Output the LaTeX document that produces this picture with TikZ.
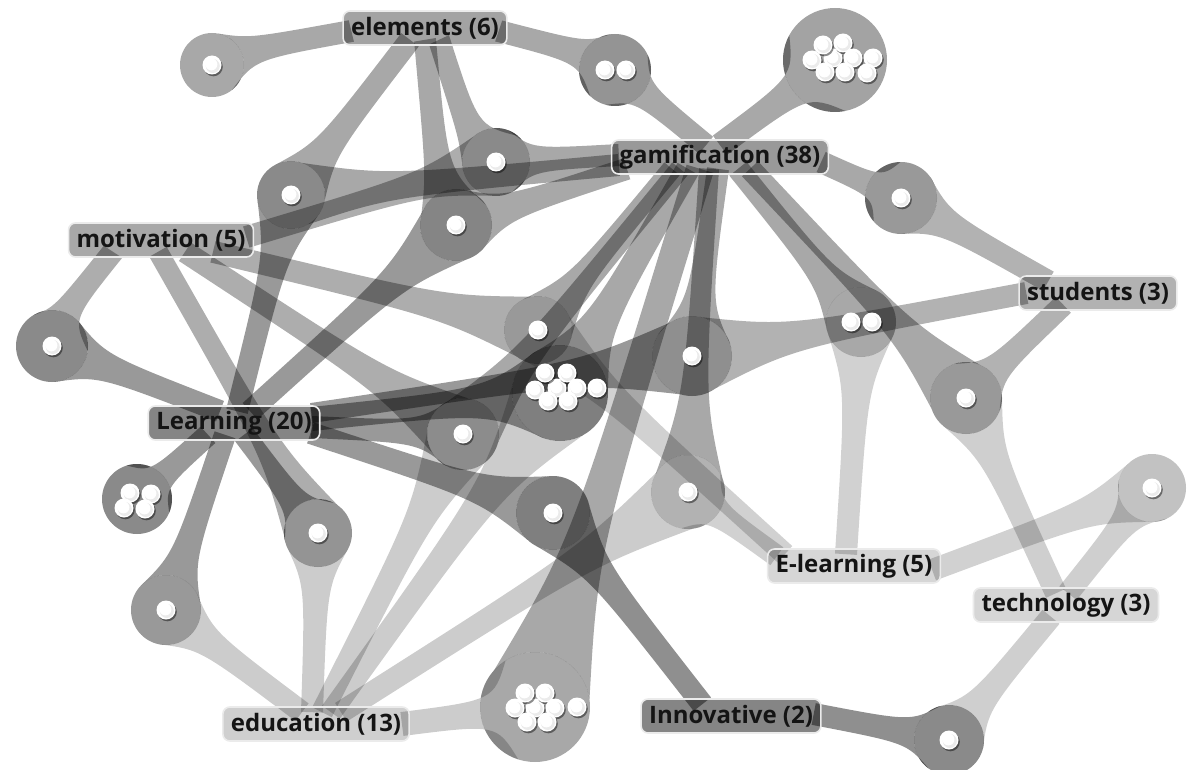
\documentclass[tikz,border=0pt]{standalone}
\usepackage{fontspec}
\setmainfont{Open Sans}
\usetikzlibrary{calc}
\pgfdeclarelayer{bandlayer}
\pgfdeclarelayer{dotlayer}
\pgfsetlayers{bandlayer,dotlayer,main}
% tapered band from document #1 (radius #3) to keyword anchor #2
\newcommand\band[6]{%
  \fill[black,fill opacity=#5] let \p1=($(#2)-(#1.center)$), \n1={atan2(\y1,\x1)},
    \p2=($(#1.center)!0.3!(#2)$), \n2={#4+(#6)}, \n3={#4-(#6)} in
    ($(#1.center)+(\n1+65:#3pt)$) .. controls ($(\p2)+(\n1+90:\n2 pt)$) .. ($(#2)+(\n1+90:#4pt)$)
    -- ($(#2)+(\n1-90:#4pt)$) .. controls ($(\p2)+(\n1-90:\n3 pt)$) .. ($(#1.center)+(\n1-65:#3pt)$)
    arc[start angle=\n1-65, delta angle=130, radius=#3pt] -- cycle;}
\newcommand\wdot[3]{%
  \fill[black,fill opacity=.45] ($(#1.center)+({#2+1.3},{-1*#3-1.8})$) circle[radius=9.5pt];
  \fill[white] ($(#1.center)+({#2},{-1*#3})$) circle[radius=9.5pt];
  \fill[black!8] ($(#1.center)+({#2+0.8},{-1*#3-1})$) circle[radius=7pt];
  \fill[white] ($(#1.center)+({#2-0.6},{-1*#3+0.6})$) circle[radius=6pt];}
\tikzset{
  kw/.style={rounded corners=7pt, draw=black!8, line width=1.6pt, fill=black,
    fill opacity=#1, text opacity=1, text=black!92, minimum height=34pt,
    inner xsep=8pt, inner ysep=0pt, font=\fontsize{24}{24}\selectfont\bfseries},
  docn/.style 2 args={circle, fill=black, fill opacity=#2, minimum size=2*#1 pt,
    inner sep=0pt, draw=none}
}
\begin{document}
\begin{tikzpicture}[x=1pt,y=1pt]
\useasboundingbox (0,0) rectangle (1188,-770);
% keyword labels
\node[kw=.36] (elem) at (425,-28) {elements (6)};
\node[kw=.4] (gam) at (720,-157) {gamification (38)};
\node[kw=.34] (mot) at (161,-240) {motivation (5)};
\node[kw=.3] (stu) at (1098,-293) {students (3)};
\node[kw=.48] (lrn) at (234,-423) {Learning (20)};
\node[kw=.16] (elr) at (854,-566) {E-learning (5)};
\node[kw=.16] (tec) at (1066,-605) {technology (3)};
\node[kw=.19] (edu) at (316,-724) {education (13)};
\node[kw=.48] (inn) at (731,-716) {Innovative (2)};
% band anchors, just inside the labels
\coordinate (eW) at ($(elem.west)+(9,-3)$);
\coordinate (eE) at ($(elem.east)+(-9,-3)$);
\coordinate (eB1) at ($(elem.south)+(-15,6)$);
\coordinate (eB2) at ($(elem.south)+(0,6)$);
\coordinate (eB3) at ($(elem.south)+(14,6)$);
\coordinate (gT1) at ($(gam.north)+(-14,-6)$);
\coordinate (gT2) at ($(gam.north)+(0,-6)$);
\coordinate (gW) at ($(gam.west)+(8,2)$);
\coordinate (gW2) at ($(gam.west)+(8,-8)$);
\coordinate (gSW) at ($(gam.south west)+(16,6)$);
\coordinate (gB8) at ($(gam.south)+(-48,6)$);
\coordinate (gB14) at ($(gam.south)+(-40,6)$);
\coordinate (gB9) at ($(gam.south)+(-32,6)$);
\coordinate (gB20) at ($(gam.south)+(-20,6)$);
\coordinate (gB19) at ($(gam.south)+(-11,6)$);
\coordinate (gB10) at ($(gam.south)+(-2,6)$);
\coordinate (gB11) at ($(gam.south)+(18,6)$);
\coordinate (gB13) at ($(gam.south)+(30,6)$);
\coordinate (gE) at ($(gam.east)+(-8,-5)$);
\coordinate (mL) at ($(mot.south)+(-48,6)$);
\coordinate (mR) at ($(mot.east)+(-8,3)$);
\coordinate (mB16) at ($(mot.south)+(-3,6)$);
\coordinate (mB14) at ($(mot.south)+(24,6)$);
\coordinate (mB8) at ($(mot.south)+(52,6)$);
\coordinate (lT7) at ($(lrn.north)+(-14,-6)$);
\coordinate (lT5) at ($(lrn.north)+(3,-6)$);
\coordinate (lT6) at ($(lrn.north)+(16,-6)$);
\coordinate (lR10) at ($(lrn.east)+(-9,10)$);
\coordinate (lR9) at ($(lrn.east)+(-9,4)$);
\coordinate (lR14) at ($(lrn.east)+(-9,-4)$);
\coordinate (lR18) at ($(lrn.east)+(-10,-10)$);
\coordinate (lB15) at ($(lrn.south)+(-26,6)$);
\coordinate (lB17) at ($(lrn.south)+(-9,6)$);
\coordinate (lB16) at ($(lrn.south)+(10,6)$);
\coordinate (sL) at ($(stu.west)+(8,0)$);
\coordinate (sT) at ($(stu.north west)+(30,-6)$);
\coordinate (sB) at ($(stu.south west)+(45,6)$);
\coordinate (lrT) at ($(elr.north)+(-8,-6)$);
\coordinate (lrL8) at ($(elr.north west)+(18,-6)$);
\coordinate (lrL19) at ($(elr.north west)+(10,-8)$);
\coordinate (lrR) at ($(elr.east)+(-9,-4)$);
\coordinate (tT13) at ($(tec.north)+(-10,-6)$);
\coordinate (tT21) at ($(tec.north)+(2,-6)$);
\coordinate (tB) at ($(tec.south)+(-15,6)$);
\coordinate (dT17) at ($(edu.north)+(-14,-6)$);
\coordinate (dT16) at ($(edu.north)+(-4,-6)$);
\coordinate (dT14) at ($(edu.north)+(6,-6)$);
\coordinate (dT9) at ($(edu.north)+(15,-6)$);
\coordinate (dT19) at ($(edu.north)+(25,-6)$);
\coordinate (dR) at ($(edu.east)+(-8,0)$);
\coordinate (iT) at ($(inn.north west)+(62,-6)$);
\coordinate (iR) at ($(inn.east)+(-8,2)$);
\begin{pgfonlayer}{bandlayer}
\fill[white] (0,0) rectangle (1188,-770);
% document nodes
\node[docn={32}{.34}] (d1) at (212,-65) {};
\node[docn={36}{.42}] (d2) at (615,-70) {};
\node[docn={52}{.36}] (d3) at (835,-60) {};
\node[docn={34}{.46}] (d4) at (496,-162) {};
\node[docn={34}{.46}] (d5) at (291,-195) {};
\node[docn={36}{.48}] (d6) at (456,-225) {};
\node[docn={36}{.46}] (d7) at (52,-346) {};
\node[docn={34}{.4}] (d8) at (538,-330) {};
\node[docn={48}{.5}] (d9) at (560,-393) {};
\node[docn={40}{.44}] (d10) at (692,-356) {};
\node[docn={35}{.34}] (d11) at (861,-322) {};
\node[docn={36}{.4}] (d12) at (901,-198) {};
\node[docn={36}{.4}] (d13) at (966,-398) {};
\node[docn={36}{.45}] (d14) at (463,-434) {};
\node[docn={35}{.46}] (d15) at (137,-499) {};
\node[docn={34}{.42}] (d16) at (318,-533) {};
\node[docn={35}{.4}] (d17) at (166,-610) {};
\node[docn={37}{.5}] (d18) at (553,-513) {};
\node[docn={37}{.3}] (d19) at (688,-492) {};
\node[docn={55}{.34}] (d20) at (535,-707) {};
\node[docn={34}{.24}] (d21) at (1152,-488) {};
\node[docn={35}{.46}] (d22) at (949,-740) {};
% elements
\band{d1}{eW}{32}{11}{.34}{6}
\band{d2}{eE}{36}{11}{.34}{-6}
\band{d5}{eB1}{34}{11}{.34}{0}
\band{d6}{eB2}{36}{11}{.34}{10}
\band{d4}{eB3}{34}{11}{.34}{12}
% gamification
\band{d2}{gT1}{36}{11}{.34}{0}
\band{d3}{gT2}{52}{12}{.34}{0}
\band{d4}{gW}{34}{11}{.34}{0}
\band{d5}{gW2}{34}{11}{.34}{0}
\band{d6}{gSW}{36}{11}{.34}{0}
\band{d8}{gB8}{34}{10}{.34}{0}
\band{d9}{gB9}{48}{12}{.34}{0}
\band{d10}{gB10}{40}{11}{.34}{0}
\band{d14}{gB14}{36}{10}{.34}{0}
\band{d19}{gB19}{37}{10}{.34}{0}
\band{d20}{gB20}{55}{14}{.34}{0}
\band{d11}{gB11}{35}{11}{.34}{0}
\band{d13}{gB13}{36}{11}{.34}{0}
\band{d12}{gE}{36}{11}{.34}{0}
% motivation
\band{d7}{mL}{36}{11}{.32}{8}
\band{d4}{mR}{34}{11}{.32}{0}
\band{d8}{mB8}{34}{11}{.32}{0}
\band{d14}{mB14}{36}{11}{.32}{0}
\band{d16}{mB16}{34}{10}{.32}{0}
% Learning
\band{d5}{lT5}{34}{11}{.4}{0}
\band{d6}{lT6}{36}{11}{.4}{0}
\band{d7}{lT7}{36}{11}{.4}{0}
\band{d9}{lR9}{48}{12}{.4}{0}
\band{d10}{lR10}{40}{10}{.4}{0}
\band{d14}{lR14}{36}{11}{.4}{0}
\band{d18}{lR18}{37}{11}{.4}{0}
\band{d15}{lB15}{35}{11}{.4}{0}
\band{d16}{lB16}{34}{11}{.4}{0}
\band{d17}{lB17}{35}{11}{.4}{0}
% students
\band{d10}{sL}{40}{11}{.3}{0}
\band{d12}{sT}{36}{11}{.3}{0}
\band{d13}{sB}{36}{11}{.3}{0}
% E-learning
\band{d11}{lrT}{35}{11}{.18}{0}
\band{d8}{lrL8}{34}{11}{.18}{0}
\band{d19}{lrL19}{37}{11}{.18}{0}
\band{d21}{lrR}{34}{11}{.18}{0}
% technology
\band{d13}{tT13}{36}{11}{.19}{0}
\band{d21}{tT21}{34}{11}{.19}{0}
\band{d22}{tB}{35}{11}{.19}{0}
% education
\band{d14}{dT14}{36}{11}{.2}{0}
\band{d16}{dT16}{34}{11}{.2}{0}
\band{d17}{dT17}{35}{11}{.2}{0}
\band{d9}{dT9}{48}{11}{.2}{0}
\band{d19}{dT19}{37}{11}{.2}{0}
\band{d20}{dR}{55}{12}{.2}{0}
% Innovative
\band{d18}{iT}{37}{11}{.44}{0}
\band{d22}{iR}{35}{11}{.44}{0}
\end{pgfonlayer}
\begin{pgfonlayer}{dotlayer}
\foreach \d in {d1,d4,d5,d6,d7,d8,d10,d12,d13,d14,d16,d17,d18,d19,d21,d22}{\wdot{\d}{0}{0}}
\wdot{d2}{-10}{0}\wdot{d2}{11}{0}
\wdot{d11}{-10}{0}\wdot{d11}{11}{0}
\wdot{d15}{-7}{-6}\wdot{d15}{14}{-5}\wdot{d15}{-13}{9}\wdot{d15}{8}{10}
% 9 documents
\wdot{d3}{-2}{-2}
\wdot{d3}{-12}{-15}\wdot{d3}{8}{-17}\wdot{d3}{-23}{0}\wdot{d3}{18}{-2}\wdot{d3}{38}{-2}
\wdot{d3}{-10}{12}\wdot{d3}{10}{12}\wdot{d3}{32}{13}
% 8 documents
\wdot{d9}{-3}{-5}
\wdot{d9}{-15}{-20}\wdot{d9}{7}{-20}\wdot{d9}{-25}{-3}\wdot{d9}{17}{-5}\wdot{d9}{37}{-5}
\wdot{d9}{-12}{8}\wdot{d9}{8}{8}
\wdot{d20}{0}{1}
\wdot{d20}{-10}{-14}\wdot{d20}{10}{-14}\wdot{d20}{-20}{1}\wdot{d20}{20}{1}\wdot{d20}{42}{0}
\wdot{d20}{-8}{15}\wdot{d20}{12}{15}
\end{pgfonlayer}
\end{tikzpicture}
\end{document}
